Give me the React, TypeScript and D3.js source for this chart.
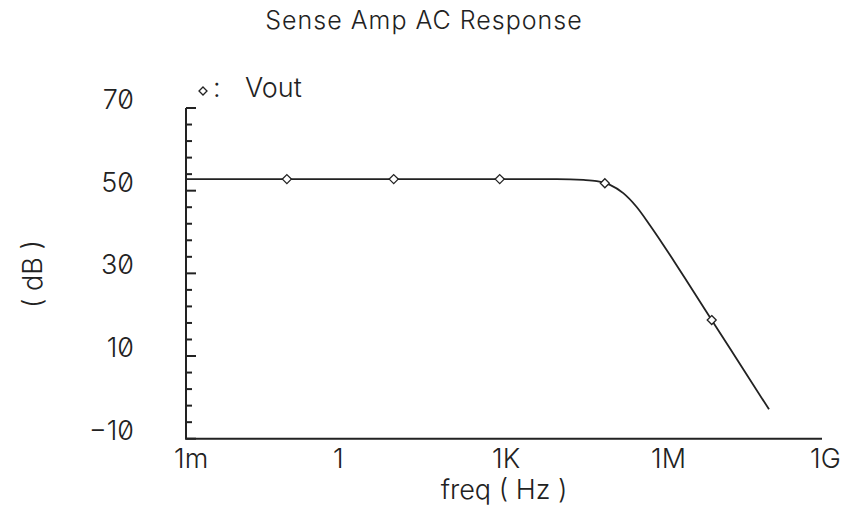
import React, { useEffect, useRef } from 'react';
import * as d3 from 'd3';

// Vout magnitude (freq in Hz, gain in dB)
const freqs = [1e-3, 1e-2, 0.1, 1, 10, 100, 1e3, 1e4, 3.16e4, 5.62e4, 1e5, 1.78e5, 3.16e5, 5.62e5, 1e6, 1.78e6, 3.16e6, 1e7, 3.16e7, 1e8];
const gains = [52.8, 52.8, 52.8, 52.8, 52.8, 52.8, 52.8, 52.8, 52.6, 52.3, 51.4, 49.4, 46.1, 41.7, 37.0, 32.1, 27.1, 17.1, 7.1, -2.9];

// diamond markers along the trace
const markerFreqs = [0.08, 8.3, 830, 8e4, 8.3e6];
const markerGains = [52.8, 52.8, 52.8, 51.8, 18.7];

const xTicks = [1e-3, 1, 1e3, 1e6, 1e9];
const xTickLabels = ['1m', '1', '1K', '1M', '1G'];
const yMajor = [-10, 10, 30, 50, 70];
const yMinor = d3.range(-10, 71, 4);

const App = () => {
  const svgRef = useRef<SVGSVGElement>(null);

  useEffect(() => {
    const W = 848, H = 512;
    const left = 186, right = 822, top = 108, bottom = 438.7;
    const ink = '#222';
    const font = 'Inter, "DejaVu Sans", sans-serif';

    d3.select(svgRef.current).selectAll('*').remove();
    const svg = d3.select(svgRef.current)
      .attr('width', W)
      .attr('height', H)
      .style('font-family', font);

    svg.append('rect').attr('width', W).attr('height', H).attr('fill', '#fff');

    const x = d3.scaleLog().domain([1e-3, 1e9]).range([left, right]);
    const y = d3.scaleLinear().domain([-10, 70]).range([bottom, top]);

    // shared text styling: thin face, slashed zeros like the plotter font
    const label = (sel: any, size = 27) => sel
      .attr('fill', ink)
      .style('font-size', `${size}px`)
      .style('font-weight', 300)
      .style('font-variant-numeric', 'slashed-zero')
      .style('font-feature-settings', '"zero" 1')
      .style('white-space', 'pre');

    // axes frame (left + bottom only)
    svg.append('path')
      .attr('d', `M${left},${top}V${bottom}H${right}`)
      .attr('fill', 'none')
      .attr('stroke', ink)
      .attr('stroke-width', 2);

    // y ticks, pointing inward
    svg.selectAll('.ytick')
      .data(yMinor)
      .enter()
      .append('line')
        .attr('x1', left)
        .attr('x2', d => left + (yMajor.includes(d) ? 10 : 6))
        .attr('y1', d => y(d))
        .attr('y2', d => y(d))
        .attr('stroke', ink)
        .attr('stroke-width', 2);

    svg.selectAll('.ylabel')
      .data(yMajor)
      .enter()
      .append('text')
        .attr('x', 134)
        .attr('y', d => y(d) + 1)
        .attr('text-anchor', 'end')
        .call(label)
        .text(d => (d < 0 ? '\u2212' + Math.abs(d) : String(d)));

    svg.selectAll('.xlabel')
      .data(xTicks)
      .enter()
      .append('text')
        .attr('x', d => x(d) - 12)
        .attr('y', 468)
        .call(label)
        .text((d, i) => xTickLabels[i]);

    // trace
    const line = d3.line<number>()
      .x((d, i) => x(freqs[i]))
      .y(d => y(d))
      .curve(d3.curveMonotoneX);
    svg.append('path')
      .datum(gains)
      .attr('d', line)
      .attr('fill', 'none')
      .attr('stroke', ink)
      .attr('stroke-width', 1.8);

    const diamond = (cx: number, cy: number, r: number) =>
      `M${cx},${cy - r}L${cx + r},${cy}L${cx},${cy + r}L${cx - r},${cy}Z`;

    svg.selectAll('.marker')
      .data(markerGains)
      .enter()
      .append('path')
        .attr('d', (d, i) => diamond(x(markerFreqs[i]), y(d), 4.5))
        .attr('fill', '#fff')
        .attr('stroke', ink)
        .attr('stroke-width', 1.3);

    // legend
    svg.append('path')
      .attr('d', diamond(203, 91, 4))
      .attr('fill', '#fff')
      .attr('stroke', ink)
      .attr('stroke-width', 1.3);
    svg.append('text').attr('x', 213).attr('y', 97).call(label).text(':');
    svg.append('text').attr('x', 245).attr('y', 97).call(label).text('Vout');

    // title
    svg.append('text')
      .attr('x', 424)
      .attr('y', 29)
      .attr('text-anchor', 'middle')
      .call(label, 25)
      .style('letter-spacing', '1px')
      .text('Sense Amp AC Response');

    // x axis title
    svg.append('text')
      .attr('x', 504)
      .attr('y', 499)
      .attr('text-anchor', 'middle')
      .call(label)
      .text('freq ( Hz )');

    // y axis title
    svg.append('text')
      .attr('transform', 'translate(42,274) rotate(-90)')
      .attr('text-anchor', 'middle')
      .call(label)
      .text('( dB )');
  }, []);

  return (
    <div style={{ position: 'absolute', left: 0, top: 0 }}>
      <svg ref={svgRef} style={{ display: 'block' }}></svg>
    </div>
  );
};

export default App;
